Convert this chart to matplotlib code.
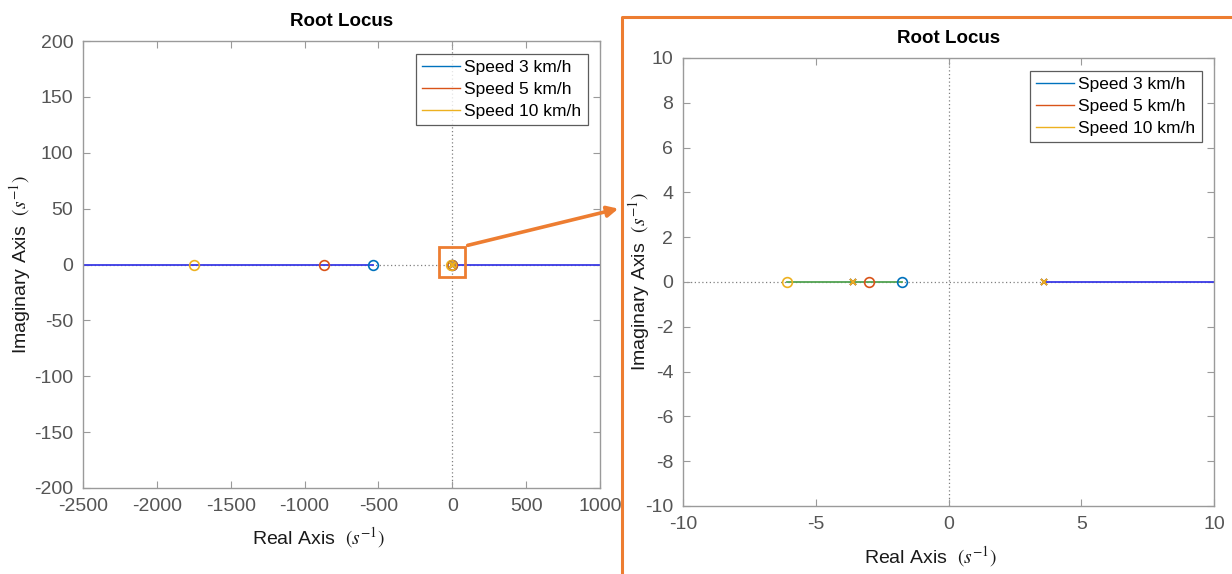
import matplotlib
matplotlib.use("Agg")
import matplotlib.pyplot as plt
from matplotlib.lines import Line2D
from matplotlib.patches import Rectangle, FancyArrowPatch

plt.rcParams["font.family"] = ["Liberation Sans", "DejaVu Sans"]
plt.rcParams["mathtext.fontset"] = "stix"
plt.rcParams["axes.unicode_minus"] = False

# Systems at three travel speeds
speed_labels = ["Speed 3 km/h", "Speed 5 km/h", "Speed 10 km/h"]
speed_colors = ["#0072BD", "#D95319", "#EDB120"]

# Open-loop zeros and poles on the real axis (s^-1)
zeros_3 = [-535.0, -1.75]
zeros_5 = [-870.0, -3.0]
zeros_10 = [-1750.0, -6.1]
poles_all = [-3.6, 3.6]

# Real-axis locus segments (start, end) in s^-1
blue_seg_start = [-1.0e4, 3.6]
blue_seg_end = [-535.0, 1.0e4]
green_seg_start = [-6.1]
green_seg_end = [-1.75]

# Axis ranges and ticks
wide_xticks = [-2500, -2000, -1500, -1000, -500, 0, 500, 1000]
wide_yticks = [-200, -150, -100, -50, 0, 50, 100, 150, 200]
zoom_xticks = [-10, -5, 0, 5, 10]
zoom_yticks = [-10, -8, -6, -4, -2, 0, 2, 4, 6, 8, 10]

W, H = 1232, 574
fig = plt.figure(figsize=(W / 100, H / 100), dpi=100)

TICK_GRAY = "#555555"
SPINE_GRAY = "#9a9a9a"
LOCUS_BLUE = "#3a3ae6"
LOCUS_GREEN = "#52a352"
ORANGE = "#ED7D31"


def px_axes(x0, y0, x1, y1):
    return fig.add_axes([x0 / W, 1 - y1 / H, (x1 - x0) / W, (y1 - y0) / H])


def draw_locus(ax):
    ax.axhline(0, color="#808080", ls=(0, (1, 2)), lw=0.9, zorder=1)
    ax.axvline(0, color="#808080", ls=(0, (1, 2)), lw=0.9, zorder=1)
    for s, e in zip(blue_seg_start, blue_seg_end):
        ax.plot([s, e], [0, 0], color=LOCUS_BLUE, lw=1.3, zorder=2)
    for s, e in zip(green_seg_start, green_seg_end):
        ax.plot([s, e], [0, 0], color=LOCUS_GREEN, lw=1.3, zorder=2)
    for zs, c in zip([zeros_3, zeros_5, zeros_10], speed_colors):
        ax.plot(zs, [0] * len(zs), ls="none", marker="o", ms=7, mfc="none",
                mec=c, mew=1.2, zorder=3)
    for c in speed_colors:
        ax.plot(poles_all, [0] * len(poles_all), ls="none", marker="x", ms=5,
                mec=c, mew=1.2, zorder=4)
    handles = [Line2D([], [], color=c, lw=1.0) for c in speed_colors]
    leg = ax.legend(handles, speed_labels, loc="upper right", fontsize=12.5,
                    frameon=True, fancybox=False, edgecolor="#333333",
                    handlelength=2.2, handletextpad=0.25, labelspacing=0.4,
                    borderpad=0.35, borderaxespad=0.72)
    leg.get_frame().set_linewidth(0.9)
    for sp in ax.spines.values():
        sp.set_color(SPINE_GRAY)
        sp.set_linewidth(1.0)
    ax.tick_params(direction="in", length=5, width=0.8, color=SPINE_GRAY,
                   labelcolor=TICK_GRAY, labelsize=14, top=True, right=True,
                   pad=7)
    ax.set_title("Root Locus", fontsize=13.5, fontweight="bold", pad=11)


def axis_labels(ax):
    ax.set_xlabel(r"Real Axis  $(s^{-1})$", fontsize=14, color="#1a1a1a")
    ax.set_ylabel(r"Imaginary Axis  $(s^{-1})$", fontsize=14,
                  color="#1a1a1a")


# Wide view
ax1 = px_axes(83, 41, 600, 488)
draw_locus(ax1)
ax1.set_xlim(-2500, 1000)
ax1.set_ylim(-200, 200)
ax1.set_xticks(wide_xticks)
ax1.set_yticks(wide_yticks)
axis_labels(ax1)
ax1.xaxis.set_label_coords(0.455, -0.082)
ax1.yaxis.set_label_coords(-0.097, 0.5)
ax1.add_patch(Rectangle((-88, -11), 176, 27, fill=False, ec=ORANGE, lw=2,
                        zorder=5, clip_on=False))

# Zoomed view
ax2 = px_axes(683, 58, 1214, 506)
draw_locus(ax2)
ax2.set_xlim(-10, 10)
ax2.set_ylim(-10, 10)
ax2.set_xticks(zoom_xticks)
ax2.set_yticks(zoom_yticks)
axis_labels(ax2)
ax2.xaxis.set_label_coords(0.467, -0.085)
ax2.yaxis.set_label_coords(-0.058, 0.5)

# Frame around the zoomed view and connecting arrow
frame = Line2D([622 / W, 622 / W, 1.0], [0.0, 1 - 17 / H, 1 - 17 / H],
               transform=fig.transFigure, color=ORANGE, lw=2.2)
fig.add_artist(frame)
arrow = FancyArrowPatch((465 / W, 1 - 246 / H), (621 / W, 1 - 208 / H),
                        transform=fig.transFigure, arrowstyle="-|>",
                        mutation_scale=16, color=ORANGE, lw=2.6)
fig.add_artist(arrow)

fig.savefig("out.png", dpi=100)
